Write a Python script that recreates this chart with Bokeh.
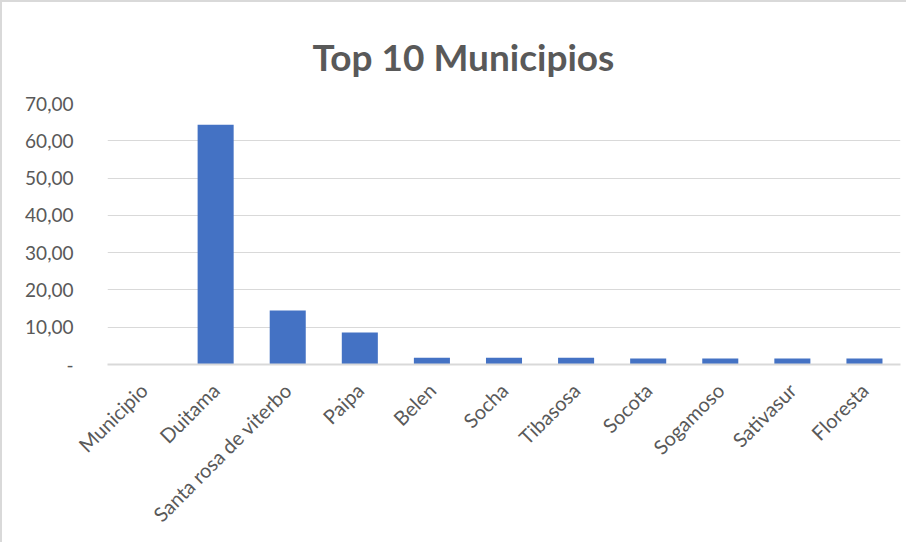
from bokeh.plotting import figure
from bokeh.models import ColumnDataSource, FixedTicker
from bokeh.embed import file_html
from bokeh.resources import INLINE
import math

municipios = ["Municipio", "Duitama", "Santa rosa de viterbo", "Paipa", "Belen",
              "Socha", "Tibasosa", "Socota", "Sogamoso", "Sativasur", "Floresta"]
valores = [0.0, 64.3, 14.5, 8.6, 1.8, 1.8, 1.8, 1.6, 1.6, 1.6, 1.6]
y_ticks = [0, 10, 20, 30, 40, 50, 60, 70]
y_labels = ["-", "10,00", "20,00", "30,00", "40,00", "50,00", "60,00", "70,00"]

source = ColumnDataSource(data=dict(municipio=municipios, valor=valores))

FONT = "Lato"
GRAY = "#595959"

p = figure(x_range=municipios, y_range=(0, 70), width=906, height=542,
           output_backend="svg", toolbar_location=None,
           min_border_left=105, min_border_right=8, min_border_top=101,
           min_border_bottom=180)
p.styles = {"border-left": "2px solid #d9d9d9", "border-top": "2px solid #d9d9d9"}

p.vbar(x="municipio", top="valor", width=0.5, source=source,
       fill_color="#4472C4", line_color=None)

p.title.text = "Top 10 Municipios"
p.title.text_font = FONT
p.title.text_font_size = "37px"
p.title.text_font_style = "bold"
p.title.text_color = GRAY
p.title.align = "left"
p.title.offset = 205
p.title.standoff = 50

p.outline_line_color = None
p.background_fill_color = "white"
p.border_fill_color = "white"

p.xgrid.grid_line_color = None
p.ygrid.grid_line_color = "#d9d9d9"
p.ygrid.grid_line_width = 1

p.yaxis.ticker = FixedTicker(ticks=y_ticks)
p.yaxis.major_label_overrides = {t: l for t, l in zip(y_ticks, y_labels)}
p.yaxis.axis_line_color = None
p.yaxis.major_tick_line_color = None
p.yaxis.minor_tick_line_color = None
p.yaxis.major_label_text_font = FONT
p.yaxis.major_label_text_font_size = "19px"
p.yaxis.major_label_text_color = GRAY
p.yaxis.major_label_standoff = 28

p.xaxis.axis_line_color = "#d9d9d9"
p.xaxis.axis_line_width = 2
p.xaxis.major_tick_line_color = None
p.xaxis.minor_tick_line_color = None
p.xaxis.major_label_orientation = math.pi / 4
p.xaxis.major_label_text_font = FONT
p.xaxis.major_label_text_font_size = "20px"
p.xaxis.major_label_text_color = GRAY
p.xaxis.major_label_standoff = 16

p.x_range.range_padding = 0.0

open("out.html", "w").write(file_html(p, INLINE))
